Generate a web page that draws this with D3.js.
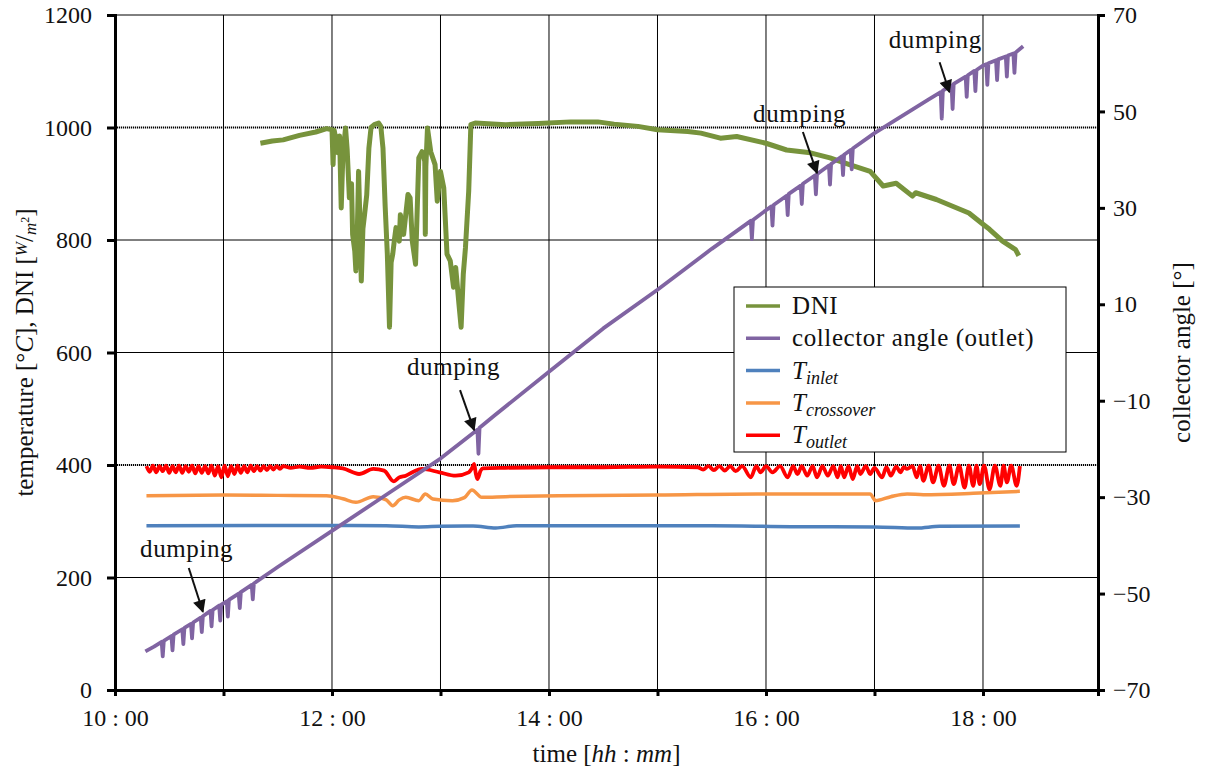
<!DOCTYPE html>
<html>
<head>
<meta charset="utf-8">
<script src="https://cdn.jsdelivr.net/npm/d3@7"></script>
<style>
  body { margin: 0; background: #fff; }
  text { font-family: 'Liberation Serif'; fill: #111; }
</style>
</head>
<body>
<div class="canvas"></div>
<script>
// time in decimal hours, DNI in W/m2, temperatures in degC, angle in deg
const dni = [
  [11.34, 972], [11.45, 976], [11.55, 978], [11.7, 986], [11.85, 992], [11.95, 998],
  [12.0, 996], [12.01, 934], [12.02, 995], [12.04, 975], [12.055, 955], [12.07, 985],
  [12.085, 857], [12.1, 950], [12.125, 999], [12.14, 960], [12.16, 875], [12.18, 900],
  [12.19, 810], [12.21, 780], [12.22, 745], [12.235, 830], [12.245, 922], [12.255, 850],
  [12.27, 727], [12.285, 820], [12.3, 845], [12.32, 880], [12.34, 963], [12.36, 1000],
  [12.39, 1005], [12.43, 1008], [12.45, 1002], [12.47, 963], [12.49, 860], [12.51, 775],
  [12.53, 645], [12.545, 760], [12.56, 775], [12.575, 800], [12.59, 822], [12.62, 798],
  [12.63, 845], [12.66, 810], [12.7, 881], [12.72, 875], [12.74, 798], [12.77, 757],
  [12.8, 946], [12.83, 957], [12.855, 940], [12.86, 810], [12.865, 930], [12.88, 999],
  [12.91, 957], [12.95, 934], [12.97, 869], [13.0, 922], [13.03, 893], [13.06, 775],
  [13.09, 763], [13.12, 716], [13.14, 751], [13.17, 686], [13.19, 645], [13.21, 739],
  [13.23, 786], [13.26, 887], [13.28, 1005], [13.32, 1008], [13.6, 1005], [13.9, 1007],
  [14.2, 1010], [14.45, 1010], [14.6, 1006], [14.82, 1002], [15.0, 996], [15.28, 993],
  [15.4, 990], [15.58, 981], [15.73, 984], [16.0, 972], [16.19, 960], [16.41, 955],
  [16.59, 946], [16.77, 934], [16.96, 922], [17.08, 896], [17.2, 901], [17.35, 878],
  [17.38, 884], [17.57, 872], [17.72, 860], [17.87, 848], [18.0, 828], [18.06, 819],
  [18.18, 798], [18.3, 783], [18.33, 772]
]

const angle = [
  [10.28, -62], [10.36, -61], [10.43, -60], [10.44, -63], [10.45, -59.8], [10.52, -58.8],
  [10.53, -61.8], [10.54, -58.5], [10.62, -57.4], [10.63, -60.5], [10.64, -57.1], [10.7, -56.3],
  [10.71, -59.3], [10.72, -56], [10.79, -55], [10.8, -58], [10.81, -54.7], [10.88, -53.6],
  [10.89, -56.8], [10.9, -53.4], [10.96, -52.5], [10.97, -55.6], [10.98, -52.3], [11.03, -51.6],
  [11.04, -54.8], [11.05, -51.3], [11.14, -50], [11.15, -53], [11.16, -49.7], [11.26, -48.2],
  [11.27, -51.2], [11.28, -47.9], [11.5, -44.5], [12.0, -37], [12.5, -29.5], [13.0, -22],
  [13.34, -16], [13.35, -21], [13.36, -15.6], [13.5, -13], [14.0, -4], [14.5, 5], [15.0, 13],
  [15.5, 21.5], [15.86, 27.3], [15.87, 23.5], [15.88, 27.5], [16.0, 29.5], [16.05, 30.3],
  [16.06, 26.3], [16.07, 30.6], [16.19, 32.5], [16.2, 28.5], [16.21, 32.9], [16.32, 34.6],
  [16.33, 30.8], [16.34, 35], [16.45, 36.7], [16.46, 32.8], [16.47, 37], [16.5, 37.5],
  [16.58, 38.8], [16.59, 34.8], [16.6, 39.1], [16.7, 40.7], [16.71, 36.8], [16.72, 41],
  [16.78, 42], [16.79, 38], [16.8, 42.3], [17.0, 45.5], [17.5, 52.5], [17.61, 54],
  [17.62, 48.5], [17.63, 54.3], [17.71, 55.4], [17.72, 50.5], [17.73, 55.7], [17.84, 57.2],
  [17.85, 53], [17.86, 57.5], [17.92, 58.4], [17.93, 54.2], [17.94, 58.6], [18.0, 59.5],
  [18.03, 59.8], [18.04, 55.5], [18.05, 60], [18.12, 60.6], [18.13, 56.5], [18.14, 60.8],
  [18.21, 61.4], [18.22, 57.2], [18.23, 61.6], [18.28, 62], [18.29, 58], [18.3, 62.2],
  [18.37, 63.5]
]

const tInlet = [
  [10.29, 292], [11.5, 292.5], [12.5, 292], [12.8, 290], [13.0, 291], [13.3, 291.5],
  [13.51, 288], [13.7, 292], [14.5, 292], [15.5, 292], [16.23, 290.4], [17.0, 290],
  [17.39, 288], [17.6, 291], [18.34, 291.6]
]

const tCrossover = [
  [10.29, 345.5], [11.0, 346.5], [11.5, 346], [11.95, 345.5], [12.1, 340], [12.22, 333.6],
  [12.38, 343.7], [12.5, 338], [12.56, 327.7], [12.62, 338], [12.68, 342.5], [12.8, 336.6],
  [12.86, 348.4], [12.93, 339.6], [13.11, 336.6], [13.22, 342], [13.29, 355.6], [13.38, 342.5],
  [13.6, 343.7], [14.09, 345.5], [15.0, 346.5], [15.92, 348.4], [16.96, 348.4], [17.01, 336.6],
  [17.15, 343.7], [17.3, 348.4], [17.45, 347.2], [17.91, 349.6], [18.34, 353.2]
]

const tOutlet = [
  [10.29, 398], [10.32, 388], [10.35, 399], [10.38, 387], [10.41, 398], [10.44, 389],
  [10.47, 399], [10.5, 386], [10.53, 398], [10.56, 387], [10.59, 399], [10.62, 386],
  [10.65, 398], [10.68, 388], [10.71, 399], [10.74, 385], [10.77, 398], [10.8, 386],
  [10.83, 398], [10.86, 385], [10.89, 399], [10.92, 381], [10.95, 398], [10.98, 378],
  [11.01, 399], [11.04, 380], [11.07, 398], [11.1, 384], [11.13, 399], [11.16, 386],
  [11.19, 398], [11.22, 387], [11.25, 399], [11.28, 389], [11.31, 398], [11.34, 390],
  [11.37, 398], [11.4, 391], [11.43, 398], [11.46, 392], [11.49, 398], [11.52, 393],
  [11.55, 398], [11.62, 395], [11.7, 397], [11.8, 395], [11.9, 397], [12.0, 396],
  [12.1, 394], [12.25, 384], [12.38, 393], [12.48, 390], [12.57, 371], [12.62, 378],
  [12.68, 381], [12.75, 388], [12.83, 393], [12.99, 387], [13.14, 381], [13.26, 387],
  [13.3, 398], [13.31, 402], [13.325, 385], [13.34, 375], [13.37, 390], [13.39, 394],
  [13.6, 395], [14.0, 396], [14.5, 396], [15.0, 397], [15.37, 396], [15.42, 392],
  [15.47, 398], [15.52, 391], [15.57, 398], [15.62, 390], [15.67, 398], [15.72, 389],
  [15.78, 398], [15.86, 378], [15.91, 398], [15.95, 387], [16.0, 398], [16.06, 387],
  [16.13, 398], [16.2, 378], [16.25, 398], [16.29, 384], [16.33, 398], [16.38, 381],
  [16.43, 398], [16.47, 378], [16.52, 398], [16.57, 381], [16.62, 398], [16.66, 378],
  [16.69, 398], [16.72, 378], [16.76, 398], [16.8, 375], [16.84, 398], [16.87, 384],
  [16.92, 398], [16.96, 384], [17.0, 395], [17.07, 378], [17.11, 396], [17.15, 381],
  [17.2, 397], [17.24, 387], [17.27, 396], [17.3, 393], [17.35, 398], [17.39, 378],
  [17.42, 398], [17.45, 372], [17.5, 399], [17.54, 369], [17.59, 399], [17.64, 363],
  [17.69, 399], [17.73, 366], [17.78, 399], [17.83, 360], [17.87, 399], [17.91, 363],
  [17.94, 399], [17.97, 366], [18.01, 399], [18.06, 357], [18.11, 399], [18.16, 363],
  [18.19, 399], [18.22, 369], [18.26, 399], [18.31, 363], [18.34, 398]
]

const hourTicks = [10, 11, 12, 13, 14, 15, 16, 17, 18]
const leftTicks = [0, 200, 400, 600, 800, 1000, 1200]
const rightTicks = [-70, -50, -30, -10, 10, 30, 50, 70]

// annotation: text anchor (time, W/m2) and arrow from/to in same units
const notes = [
  { t: 10.66, v: 247, x1: 10.68, y1: 217, x2: 10.81, y2: 139 },
  { t: 13.12, v: 571, x1: 13.18, y1: 533, x2: 13.31, y2: 462 },
  { t: 16.31, v: 1020, x1: 16.34, y1: 992, x2: 16.47, y2: 919 },
  { t: 17.56, v: 1152, x1: 17.6, y1: 1116, x2: 17.69, y2: 1063 }
]

const font = 'Liberation Serif'

const svg = d3.select('.canvas').append('svg')
  .attr('width', 1211)
  .attr('height', 772)
  .attr('font-family', font)

const margin = { top: 15, right: 113, bottom: 82, left: 115 }
const graphWidth = 1211 - margin.left - margin.right
const graphHeight = 772 - margin.top - margin.bottom

const graph = svg.append('g')
  .attr('transform', `translate(${margin.left}, ${margin.top})`)

const x = d3.scaleLinear().domain([10, 19.06]).range([0, graphWidth])
const y = d3.scaleLinear().domain([0, 1200]).range([graphHeight, 0])
const yR = d3.scaleLinear().domain([-70, 70]).range([graphHeight, 0])

// grid
graph.selectAll('.hgrid')
  .data(leftTicks.slice(1, -1))
  .enter().append('line')
  .attr('x1', 0).attr('x2', graphWidth)
  .attr('y1', d => y(d)).attr('y2', d => y(d))
  .attr('stroke', '#000')
  .attr('stroke-width', d => (d === 400 || d === 1000) ? 2 : 1)
  .attr('stroke-dasharray', d => (d === 400 || d === 1000) ? '1.2,0.8' : null)

graph.selectAll('.vgrid')
  .data(hourTicks.slice(1))
  .enter().append('line')
  .attr('x1', d => x(d)).attr('x2', d => x(d))
  .attr('y1', 0).attr('y2', graphHeight)
  .attr('stroke', '#000')
  .attr('stroke-width', 1)

graph.append('line')
  .attr('x1', 0).attr('x2', graphWidth)
  .attr('y1', 0).attr('y2', 0)
  .attr('stroke', '#000')

// series
const drawSeries = (data, sc, colour, w, curve) => {
  const line = d3.line()
    .x(d => x(d[0]))
    .y(d => sc(d[1]))
    .curve(curve || d3.curveLinear)
  graph.append('path')
    .datum(data)
    .attr('d', line)
    .attr('fill', 'none')
    .attr('stroke', colour)
    .attr('stroke-width', w)
    .attr('stroke-linejoin', 'round')
}

drawSeries(tInlet, y, '#4F81BD', 3.5, d3.curveMonotoneX)
drawSeries(tCrossover, y, '#F79646', 3.5, d3.curveMonotoneX)
drawSeries(tOutlet, y, '#FF0000', 3.8, d3.curveMonotoneX)
drawSeries(dni, y, '#77933C', 5)
drawSeries(angle, yR, '#8064A2', 3.8)

// axes
const xAxis = d3.axisBottom(x)
  .tickValues(hourTicks)
  .tickSize(6)
  .tickPadding(13)
  .tickFormat(d => d % 2 === 0 ? `${d} : 00` : '')

const yAxis = d3.axisLeft(y).tickValues(leftTicks).tickSize(8).tickPadding(15).tickFormat(d3.format('d'))
const yAxisR = d3.axisRight(yR).tickValues(rightTicks).tickSize(7).tickPadding(8)

const styleAxis = (g) => {
  g.attr('font-family', font).attr('font-size', 24)
  g.select('.domain').attr('stroke-width', 3).attr('stroke', '#000')
  g.selectAll('.tick line').attr('stroke-width', 3).attr('stroke', '#000')
  g.selectAll('.tick text').attr('fill', '#111')
}

graph.append('g').call(yAxis).call(styleAxis)
graph.append('g')
  .attr('transform', `translate(${graphWidth}, 0)`)
  .call(yAxisR).call(styleAxis)
graph.append('g')
  .attr('transform', `translate(0, ${graphHeight})`)
  .call(xAxis).call(styleAxis)

// axis titles
const xt = svg.append('text')
  .attr('x', margin.left + graphWidth / 2)
  .attr('y', 762)
  .attr('text-anchor', 'middle')
  .attr('font-size', 25)
xt.append('tspan').text('time [')
xt.append('tspan').attr('font-style', 'italic').text('hh')
xt.append('tspan').text(' : ')
xt.append('tspan').attr('font-style', 'italic').text('mm')
xt.append('tspan').text(']')

const yt = svg.append('text')
  .attr('transform', `translate(33, ${margin.top + graphHeight / 2}) rotate(-90)`)
  .attr('text-anchor', 'middle')
  .attr('font-size', 25)
yt.append('tspan').text('temperature [°')
yt.append('tspan').attr('font-style', 'italic').text('C')
yt.append('tspan').text('], DNI [')
yt.append('tspan').attr('font-style', 'italic').attr('font-size', 17).attr('dy', -6).text('W')
yt.append('tspan').attr('dy', 6).text('/')
yt.append('tspan').attr('font-style', 'italic').attr('font-size', 17).attr('dy', 3).text('m')
yt.append('tspan').attr('font-size', 12).attr('dy', -7).text('2')
yt.append('tspan').attr('dy', 4).text(']')

svg.append('text')
  .attr('transform', `translate(1190, ${margin.top + graphHeight / 2}) rotate(-90)`)
  .attr('text-anchor', 'middle')
  .attr('font-size', 25)
  .text('collector angle [°]')

// annotations
svg.append('defs').append('marker')
  .attr('id', 'arrow')
  .attr('viewBox', '0 0 10 10')
  .attr('refX', 9).attr('refY', 5)
  .attr('markerUnits', 'userSpaceOnUse')
  .attr('markerWidth', 14).attr('markerHeight', 13)
  .attr('orient', 'auto')
  .append('path')
  .attr('d', 'M0,0 L10,5 L0,10 z')
  .attr('fill', '#111')

notes.forEach(n => {
  graph.append('text')
    .attr('x', x(n.t))
    .attr('y', y(n.v) + 6)
    .attr('text-anchor', 'middle')
    .attr('font-size', 25)
    .attr('letter-spacing', 0.6)
    .text('dumping')
  graph.append('line')
    .attr('x1', x(n.x1)).attr('y1', y(n.y1))
    .attr('x2', x(n.x2)).attr('y2', y(n.y2))
    .attr('stroke', '#111')
    .attr('stroke-width', 2)
    .attr('marker-end', 'url(#arrow)')
})

// legend
const legendItems = [
  { name: 'DNI', colour: '#77933C' },
  { name: 'collector angle (outlet)', colour: '#8064A2' },
  { name: 'T', sub: 'inlet', colour: '#4F81BD' },
  { name: 'T', sub: 'crossover', colour: '#F79646' },
  { name: 'T', sub: 'outlet', colour: '#FF0000' }
]

const legend = svg.append('g').attr('transform', 'translate(734, 287)')
legend.append('rect')
  .attr('width', 332).attr('height', 165)
  .attr('fill', '#fff')
  .attr('stroke', '#000')
  .attr('stroke-width', 1)

legendItems.forEach((d, i) => {
  const cy = 19 + i * 32.3
  legend.append('line')
    .attr('x1', 12).attr('x2', 46)
    .attr('y1', cy).attr('y2', cy)
    .attr('stroke', d.colour)
    .attr('stroke-width', 3.5)
  const t = legend.append('text')
    .attr('x', 58)
    .attr('y', cy + 8)
    .attr('font-size', 25)
  if (d.sub) {
    t.append('tspan').attr('font-style', 'italic').text(d.name)
    t.append('tspan').attr('font-style', 'italic').attr('font-size', 18).attr('dy', 5).text(d.sub)
  } else {
    t.attr('letter-spacing', 0.6).text(d.name)
  }
})
</script>
</body>
</html>
